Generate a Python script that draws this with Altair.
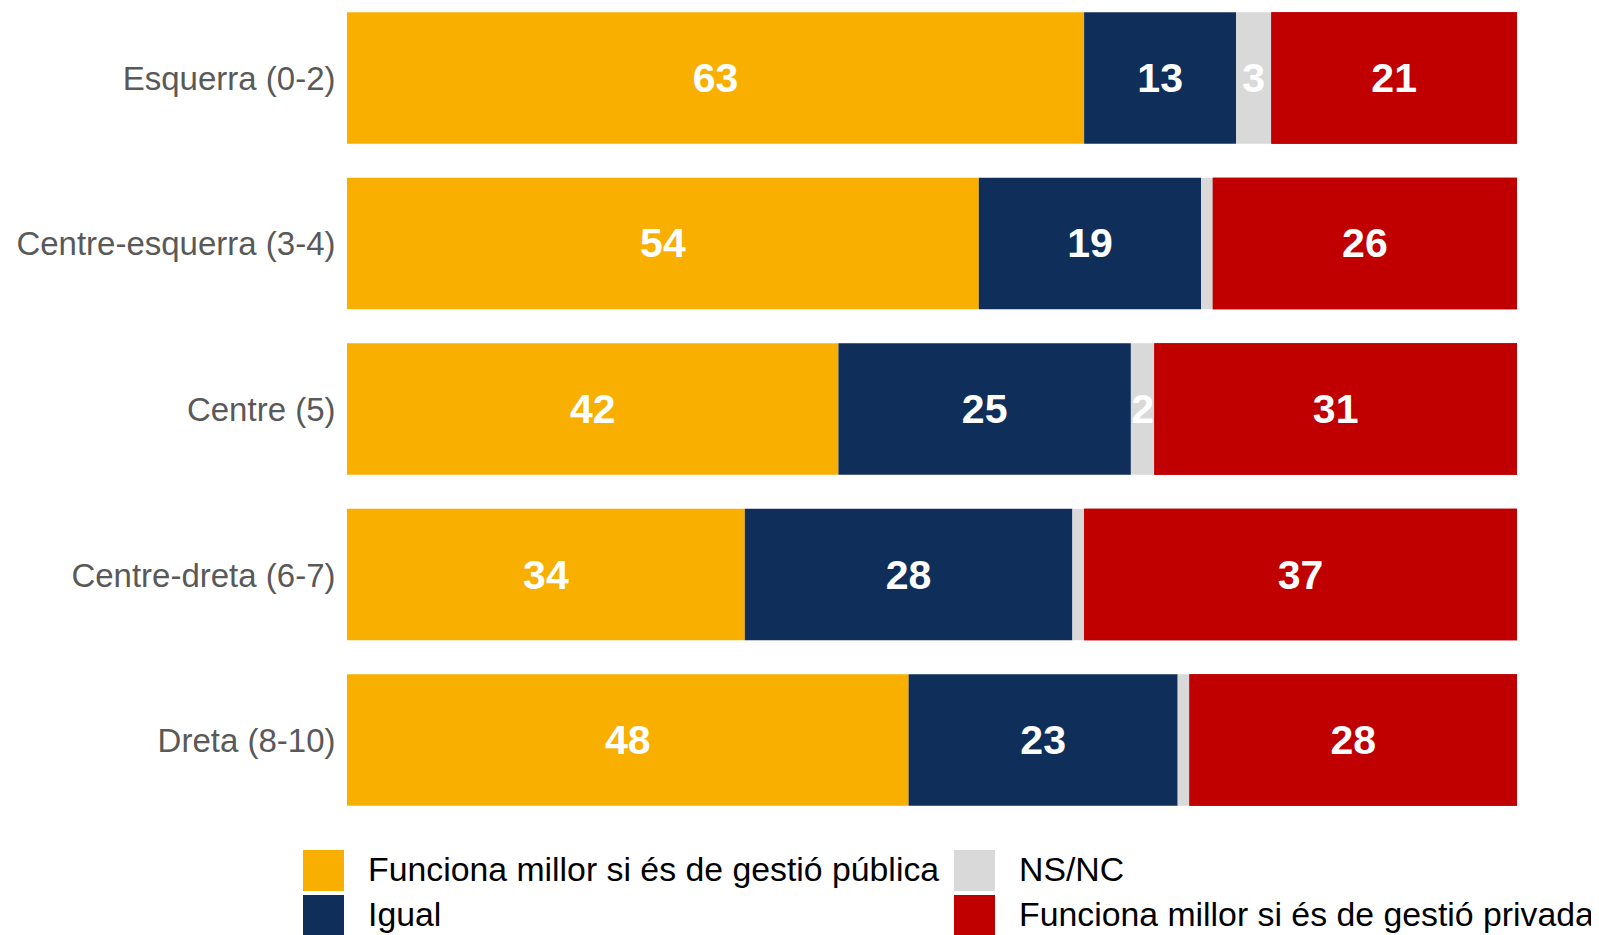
import altair as alt
import pandas as pd

categories = ["Esquerra (0-2)", "Centre-esquerra (3-4)", "Centre (5)", "Centre-dreta (6-7)", "Dreta (8-10)"]
series = [
    "Funciona millor si és de gestió pública",
    "Igual",
    "NS/NC",
    "Funciona millor si és de gestió privada",
]
publica = [63, 54, 42, 34, 48]
igual = [13, 19, 25, 28, 23]
nsnc = [3, 1, 2, 1, 1]
privada = [21, 26, 31, 37, 28]
colors = ["#F9AF00", "#0F2F5A", "#D9D9D9", "#C00000"]

rows = []
for si, vals in enumerate([publica, igual, nsnc, privada]):
    for c, v in zip(categories, vals):
        rows.append({"cat": c, "serie": series[si], "value": v, "ord": si})
df = pd.DataFrame(rows)

FONT = "Liberation Sans"

base = (
    alt.Chart(df)
    .transform_stack(
        stack="value",
        groupby=["cat"],
        sort=[alt.SortField("ord", order="ascending")],
        as_=["x0", "x1"],
    )
    .transform_calculate(mid="(datum.x0 + datum.x1) / 2")
)

y_enc = alt.Y(
    "cat:N",
    sort=categories,
    scale=alt.Scale(paddingInner=0.205, paddingOuter=0.025),
    axis=alt.Axis(
        title=None,
        domain=False,
        ticks=False,
        labelFontSize=33,
        labelFont=FONT,
        labelColor="#595959",
        labelPadding=12,
        labelOffset=2,
        labelLimit=500,
    ),
)
x_scale = alt.Scale(domain=[0, 100], nice=False, zero=True)

color_enc = alt.Color(
    "serie:N",
    scale=alt.Scale(domain=series, range=colors),
    legend=alt.Legend(
        title=None,
        orient="none",
        legendX=-44,
        legendY=842,
        columns=2,
        symbolType="square",
        symbolSize=1681,
        symbolStrokeWidth=0,
        labelFontSize=33.8,
        labelFont=FONT,
        labelColor="#000000",
        labelOffset=24,
        rowPadding=4,
        columnPadding=14,
        labelLimit=0,
        padding=0,
    ),
)

bars = base.mark_bar().encode(
    y=y_enc,
    x=alt.X("x0:Q", scale=x_scale, axis=None),
    x2="x1:Q",
    color=color_enc,
)

text_style = dict(color="white", fontWeight="bold", fontSize=41, font=FONT,
                  align="center", baseline="middle", dy=2)

labels_front = (
    base.transform_filter("datum.value >= 2 && datum.ord < 3")
    .mark_text(**text_style)
    .encode(y=alt.Y("cat:N", sort=categories), x=alt.X("mid:Q", scale=x_scale), text="value:Q")
)

red_bars = (
    base.transform_filter("datum.ord == 3")
    .mark_bar()
    .encode(y=alt.Y("cat:N", sort=categories), x=alt.X("x0:Q", scale=x_scale), x2="x1:Q", color=color_enc)
)

labels_red = (
    base.transform_filter("datum.ord == 3")
    .mark_text(**text_style)
    .encode(y=alt.Y("cat:N", sort=categories), x=alt.X("mid:Q", scale=x_scale), text="value:Q")
)

chart = (
    alt.layer(bars, labels_front, red_bars, labels_red)
    .properties(
        width=1170,
        height=802,
        autosize=alt.AutoSizeParams(type="none"),
        padding={"left": 339, "top": 0, "right": 74, "bottom": 125},
    )
    .configure_view(stroke=None)
)

chart.save("out.html", embed_options={"renderer": "svg", "actions": False})
